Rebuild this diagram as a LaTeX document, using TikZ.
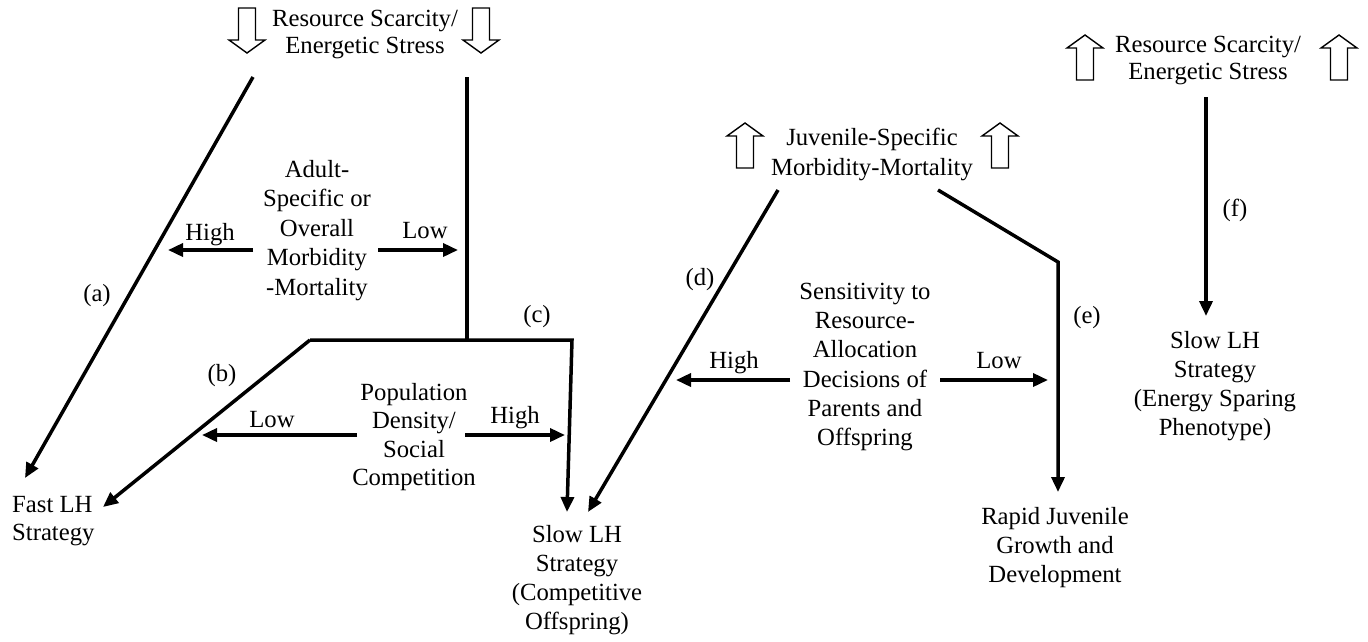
\documentclass[tikz,border=0pt]{standalone}
\usepackage{fontspec}
\setmainfont{Liberation Serif}
\usetikzlibrary{arrows.meta}
\newcommand\hollowdown[3]{% x, top, bottom
  \draw[hollow] ({#1-8.5},#2) -- ({#1+8.5},#2) -- ({#1+8.5},{#3-13}) -- ({#1+18},{#3-13}) -- (#1,#3) -- ({#1-18},{#3-13}) -- ({#1-8.5},{#3-13}) -- cycle;}
\newcommand\hollowup[3]{% x, top, bottom
  \draw[hollow] ({#1-8.5},#3) -- ({#1+8.5},#3) -- ({#1+8.5},{#2+13}) -- ({#1+18},{#2+13}) -- (#1,#2) -- ({#1-18},{#2+13}) -- ({#1-8.5},{#2+13}) -- cycle;}
\begin{document}
\begin{tikzpicture}[x=1pt,y=-1pt,
  txt/.style={align=center, inner sep=0pt, anchor=north, font=\fontsize{24.7}{29}\selectfont},
  lbl/.style={inner sep=0pt, font=\fontsize{24.7}{29}\selectfont},
  hollow/.style={line width=1.4pt, line join=miter},
  seg/.style={line width=3.5pt, line join=miter},
  conn/.style={line width=3.5pt, line join=miter, -{Triangle[length=15pt,width=13pt]}}]
\useasboundingbox (0,0) rectangle (1368,641);

% ---------- left panel ----------
\node[txt, font=\fontsize{24.7}{26.5}\selectfont] (topL) at (365,10) {Resource Scarcity/\\Energetic Stress};
\hollowdown{247}{8}{53}
\hollowdown{481}{8}{53}

\coordinate (a0) at (253,77);
\coordinate (aT) at (25,478);
\coordinate (v0) at (467,77);
\coordinate (vj) at (467,340);
\coordinate (h1) at (310,340);
\coordinate (h2) at (572,340);
\coordinate (cT) at (567,512);
\coordinate (bT) at (103,507);

\draw[conn] (a0) -- (aT);
\draw[seg] (v0) -- (vj);
\draw[conn] (h1) -- (h2) -- (cT);
\draw[conn] (h1) -- (bT);

\node[txt, font=\fontsize{24.7}{29.5}\selectfont] (adult) at (317,160) {Adult-\\Specific or\\Overall\\Morbidity\\-Mortality};
\node[lbl, anchor=base] (highA) at (210,240) {High};
\node[lbl, anchor=base] (lowA) at (425,238) {Low};
\coordinate (hA0) at (253,250); \coordinate (hA1) at (168,250);
\coordinate (lA0) at (378,250); \coordinate (lA1) at (458,250);
\draw[conn] (hA0) -- (hA1);
\draw[conn] (lA0) -- (lA1);

\node[txt, font=\fontsize{24.7}{28.5}\selectfont] (pop) at (414,383) {Population\\Density/\\Social\\Competition};
\node[lbl, anchor=base] (lowP) at (272,427) {Low};
\node[lbl, anchor=base] (highP) at (515,423) {High};
\coordinate (lP0) at (357,435); \coordinate (lP1) at (202,435);
\coordinate (hP0) at (465,435); \coordinate (hP1) at (565,435);
\draw[conn] (lP0) -- (lP1);
\draw[conn] (hP0) -- (hP1);

\node[txt, anchor=north west, align=left, font=\fontsize{24.7}{28}\selectfont] (fast) at (12,496) {Fast LH\\Strategy};
\node[txt] (slowC) at (577,525) {Slow LH\\Strategy\\(Competitive\\Offspring)};

\node[lbl] (la) at (97,296) {(a)};
\node[lbl] (lb) at (222,376) {(b)};
\node[lbl] (lc) at (537,317) {(c)};

% ---------- middle panel ----------
\node[txt, font=\fontsize{24.7}{30}\selectfont] (juv) at (872,128) {Juvenile-Specific\\Morbidity-Mortality};
\hollowup{745}{123}{168}
\hollowup{1000}{123}{168}

\coordinate (d0) at (778,190);
\coordinate (dT) at (588,512);
\coordinate (e0) at (938,190);
\coordinate (e1) at (1058,262);
\coordinate (eT) at (1058,492);
\draw[conn] (d0) -- (dT);
\draw[conn] (e0) -- (e1) -- (eT);

\node[txt, font=\fontsize{24.7}{29.2}\selectfont] (sens) at (865,283) {Sensitivity to\\Resource-\\Allocation\\Decisions of\\Parents and\\Offspring};
\node[lbl, anchor=base] (highS) at (734,368) {High};
\node[lbl, anchor=base] (lowS) at (999,368) {Low};
\coordinate (hS0) at (790,380); \coordinate (hS1) at (676,380);
\coordinate (lS0) at (940,380); \coordinate (lS1) at (1048,380);
\draw[conn] (hS0) -- (hS1);
\draw[conn] (lS0) -- (lS1);

\node[lbl] (ld) at (700,280) {(d)};
\node[lbl] (le) at (1087,318) {(e)};
\node[txt] (rapid) at (1055,507) {Rapid Juvenile\\Growth and\\Development};

% ---------- right panel ----------
\node[txt, font=\fontsize{24.7}{27}\selectfont] (topR) at (1208,36) {Resource Scarcity/\\Energetic Stress};
\hollowup{1085}{35}{80}
\hollowup{1339}{35}{80}
\coordinate (f0) at (1206,97);
\coordinate (fT) at (1206,316);
\draw[conn] (f0) -- (fT);
\node[lbl] (lf) at (1235,210) {(f)};
\node[txt] (slowE) at (1215,331) {Slow LH\\Strategy\\(Energy Sparing\\Phenotype)};
\end{tikzpicture}
\end{document}
